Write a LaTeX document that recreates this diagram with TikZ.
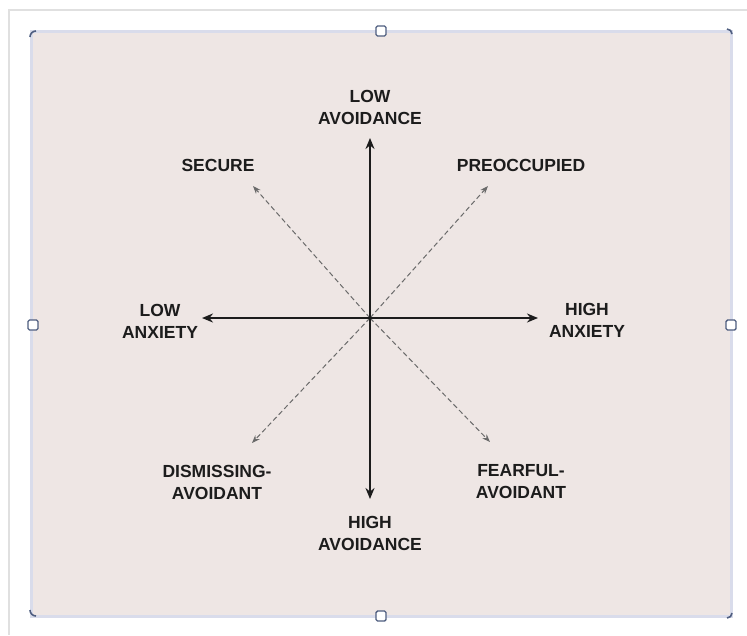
\documentclass[tikz,border=0pt]{standalone}
\usepackage{fontspec}
\setmainfont{Liberation Sans}
\usetikzlibrary{arrows.meta}
\definecolor{panel}{HTML}{EEE6E4}
\definecolor{panelrim}{HTML}{D9DCEB}
\definecolor{ink}{HTML}{1C1C1C}
\definecolor{dashink}{HTML}{6A6A6A}
\definecolor{gripink}{HTML}{4F5E80}
\begin{document}
\begin{tikzpicture}[x=1pt,y=-1pt,
  lbl/.style={font=\fontsize{17.5}{22}\selectfont\bfseries, text=ink, align=center, inner sep=0pt},
  axis/.style={draw=ink, line width=2.1pt, -{Stealth[length=11pt,width=9pt]}},
  diag/.style={draw=dashink, line width=1pt, dash pattern=on 5pt off 3pt, -{Stealth[length=8pt,width=6pt]}},
  grip/.style={draw=gripink, line width=1.4pt, fill=white, rounded corners=1.5pt},
  cornergrip/.style={draw=gripink, line width=1.6pt}]
\useasboundingbox (0,0) rectangle (747,635);
\fill[white] (0,0) rectangle (747,635);
% page edge
\draw[black!12, line width=2pt] (9,635) -- (9,10) -- (747,10);
% panel
\filldraw[fill=panel, draw=panelrim, line width=3pt] (31,31) rectangle (731,616);

% selection grips on the panel frame
\draw[grip] (376,26) rectangle (386,36);
\draw[grip] (376,611) rectangle (386,621);
\draw[grip] (28,320) rectangle (38,330);
\draw[grip] (726,320) rectangle (736,330);
\draw[cornergrip] (30,37) arc[start angle=180, end angle=90, radius=6pt];
\draw[cornergrip] (727,29) arc[start angle=90, end angle=0, radius=5pt];
\draw[cornergrip] (30,610) arc[start angle=180, end angle=270, radius=6pt];
\draw[cornergrip] (727,618) arc[start angle=270, end angle=360, radius=5pt];

% axis geometry
\coordinate (o)  at (370,318);
\coordinate (n)  at (370,138);
\coordinate (s)  at (370,499);
\coordinate (w)  at (202,318);
\coordinate (e)  at (538,318);
\coordinate (nw) at (253,186);
\coordinate (ne) at (488,186);
\coordinate (sw) at (252,443);
\coordinate (se) at (490,442);

% labels
\node[lbl] (lowav)   at (370,107) {LOW\\AVOIDANCE};
\node[lbl] (highav)  at (370,533) {HIGH\\AVOIDANCE};
\node[lbl] (lowanx)  at (160,321) {LOW\\ANXIETY};
\node[lbl] (highanx) at (587,320) {HIGH\\ANXIETY};
\node[lbl] (secure)  at (218,165) {SECURE};
\node[lbl] (preocc)  at (521,165) {PREOCCUPIED};
\node[lbl] (dismiss) at (217,482) {DISMISSING-\\AVOIDANT};
\node[lbl] (fearful) at (521,482) {FEARFUL-\\AVOIDANT};

% attachment-style diagonals
\draw[diag] (o) -- (nw);
\draw[diag] (o) -- (ne);
\draw[diag] (o) -- (sw);
\draw[diag] (o) -- (se);

% main axes
\draw[axis] (o) -- (n);
\draw[axis] (o) -- (s);
\draw[axis] (o) -- (w);
\draw[axis] (o) -- (e);
\end{tikzpicture}
\end{document}
